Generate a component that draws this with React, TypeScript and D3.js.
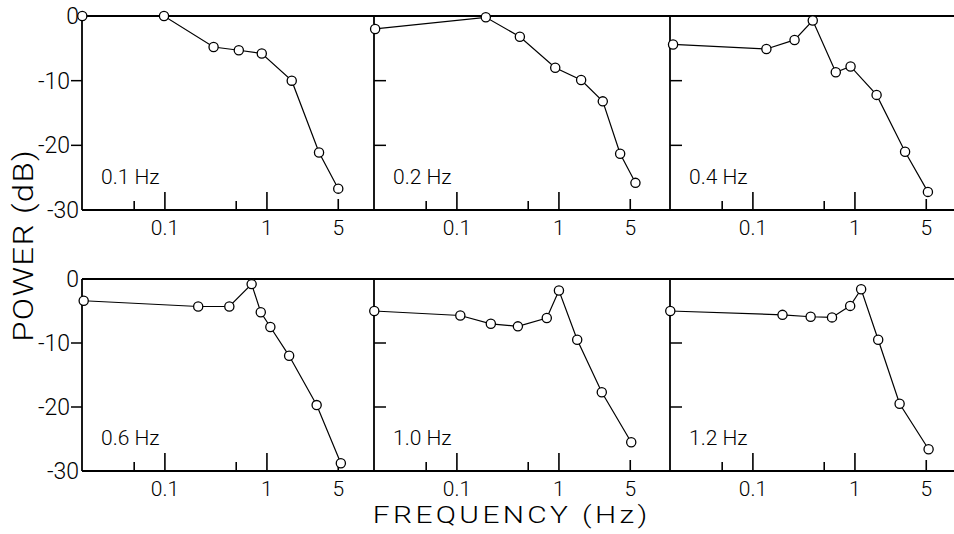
import React from "react";
import * as d3 from "d3";

// ---- data ----
const panelLabels = ["0.1 Hz", "0.2 Hz", "0.4 Hz", "0.6 Hz", "1.0 Hz", "1.2 Hz"];

const freq01 = [0.0155, 0.098, 0.3, 0.53, 0.89, 1.75, 3.24, 5.0];
const power01 = [0, 0, -4.8, -5.3, -5.8, -10.0, -21.1, -26.7];

const freq02 = [0.0158, 0.192, 0.414, 0.92, 1.65, 2.69, 3.98, 5.62];
const power02 = [-2.0, -0.2, -3.2, -8.0, -9.9, -13.2, -21.3, -25.8];

const freq04 = [0.0165, 0.1356, 0.256, 0.386, 0.649, 0.906, 1.63, 3.1, 5.19];
const power04 = [-4.4, -5.1, -3.7, -0.7, -8.7, -7.8, -12.2, -21.0, -27.2];

const freq06 = [0.016, 0.212, 0.428, 0.708, 0.87, 1.08, 1.65, 3.07, 5.3];
const power06 = [-3.4, -4.3, -4.3, -0.8, -5.2, -7.5, -12.0, -19.7, -28.8];

const freq10 = [0.0155, 0.108, 0.215, 0.396, 0.76, 1.0, 1.51, 2.63, 5.11];
const power10 = [-5.0, -5.7, -7.0, -7.4, -6.1, -1.8, -9.5, -17.7, -25.5];

const freq12 = [0.0155, 0.195, 0.368, 0.596, 0.898, 1.15, 1.69, 2.74, 5.27];
const power12 = [-5.0, -5.6, -5.9, -6.0, -4.2, -1.6, -9.5, -19.5, -26.6];

const freqSeries = [freq01, freq02, freq04, freq06, freq10, freq12];
const powerSeries = [power01, power02, power04, power06, power10, power12];

const xDomain = [0.0154, 11.2];
const yDomain = [0, -30];
const xMajorTicks = [0.1, 1];
const xMidTicks = [5];
const xMinorTicks = [0.05, 0.5];
const xTickLabels = [
  { v: 0.1, t: "0.1" },
  { v: 1, t: "1" },
  { v: 5, t: "5" },
];
const yTickValues = [-10, -20];
const yTickLabels = [
  { v: 0, t: "0" },
  { v: -10, t: "-10" },
  { v: -20, t: "-20" },
  { v: -30, t: "-30" },
];

// ---- layout ----
const W = 954;
const H = 534;
const colX = [82, 374, 670];
const rowTop = [16, 279];
const rowBottom = [210, 471];
const panelW = 292;
const FONT = "Roboto, 'Liberation Sans', sans-serif";

export default function App() {
  const x = d3.scaleLog().domain(xDomain).range([0, panelW]);
  const line = d3.line<[number, number]>();

  const panels = panelLabels.map((label, i) => {
    const row = Math.floor(i / 3);
    const col = i % 3;
    const L = colX[col];
    const T = rowTop[row];
    const B = rowBottom[row];
    const y = d3.scaleLinear().domain(yDomain).range([T, B]);
    const pts: [number, number][] = freqSeries[i].map((f, k) => [
      L + x(f),
      y(powerSeries[i][k]),
    ]);
    return (
      <g key={i}>
        <line x1={L} x2={L} y1={T} y2={B} stroke="#000" strokeWidth={1.8} />
        {yTickValues.map((v) => (
          <line
            key={v}
            x1={col === 0 ? L - 11 : L}
            x2={col === 0 ? L : L + 12}
            y1={y(v)}
            y2={y(v)}
            stroke="#000"
            strokeWidth={1.5}
          />
        ))}
        {col === 0 &&
          yTickLabels.map((d) => (
            <text
              key={d.t}
              x={d.v === 0 || d.v === -30 ? L - 3 : L - 12}
              y={y(d.v) + 8}
              textAnchor="end"
              fontSize={23}
              fontWeight={300}
              fontFamily={FONT}
            >
              {d.t}
            </text>
          ))}
        {xMajorTicks.map((v) => (
          <line key={"M" + v} x1={L + x(v)} x2={L + x(v)} y1={B} y2={B - 18} stroke="#000" strokeWidth={1.6} />
        ))}
        {xMidTicks.map((v) => (
          <line key={"m" + v} x1={L + x(v)} x2={L + x(v)} y1={B} y2={B - 11} stroke="#000" strokeWidth={1.6} />
        ))}
        {xMinorTicks.map((v) => (
          <line key={"n" + v} x1={L + x(v)} x2={L + x(v)} y1={B} y2={B - 9} stroke="#000" strokeWidth={1.6} />
        ))}
        {xTickLabels.map((d) => (
          <text
            key={d.t}
            x={L + x(d.v)}
            y={B + 25}
            textAnchor="middle"
            fontSize={21}
            fontWeight={300}
            fontFamily={FONT}
          >
            {d.t}
          </text>
        ))}
        <text x={L + 19} y={B - 26} fontSize={21} fontWeight={300} fontFamily={FONT}>
          {label}
        </text>
        <path d={line(pts) || ""} fill="none" stroke="#000" strokeWidth={1.2} />
        {pts.map((p, k) => (
          <circle key={k} cx={p[0]} cy={p[1]} r={4.6} fill="#fff" stroke="#000" strokeWidth={1.3} />
        ))}
      </g>
    );
  });

  return (
    <svg
      width={W}
      height={H}
      viewBox={`0 0 ${W} ${H}`}
      style={{ position: "absolute", left: 0, top: 0, background: "#fff" }}
    >
      <rect x={0} y={0} width={W} height={H} fill="#fff" />
      {rowTop.map((T, r) => (
        <g key={T}>
          <line x1={colX[0]} x2={W} y1={T} y2={T} stroke="#000" strokeWidth={1.8} />
          <line x1={colX[0]} x2={W} y1={rowBottom[r]} y2={rowBottom[r]} stroke="#000" strokeWidth={1.8} />
        </g>
      ))}
      {panels}
      <text
        transform="translate(33,246) rotate(-90) scale(1.22,1)"
        textAnchor="middle"
        fontSize={27}
        fontWeight={300}
        fontFamily={FONT}
        textLength={157}
        lengthAdjust="spacing"
      >
        POWER (dB)
      </text>
      <text
        transform="translate(510,523) scale(1.3,1)"
        x={0}
        y={0}
        textAnchor="middle"
        fontSize={23}
        fontWeight={300}
        fontFamily={FONT}
        textLength={211}
        lengthAdjust="spacing"
      >
        FREQUENCY (Hz)
      </text>
    </svg>
  );
}
